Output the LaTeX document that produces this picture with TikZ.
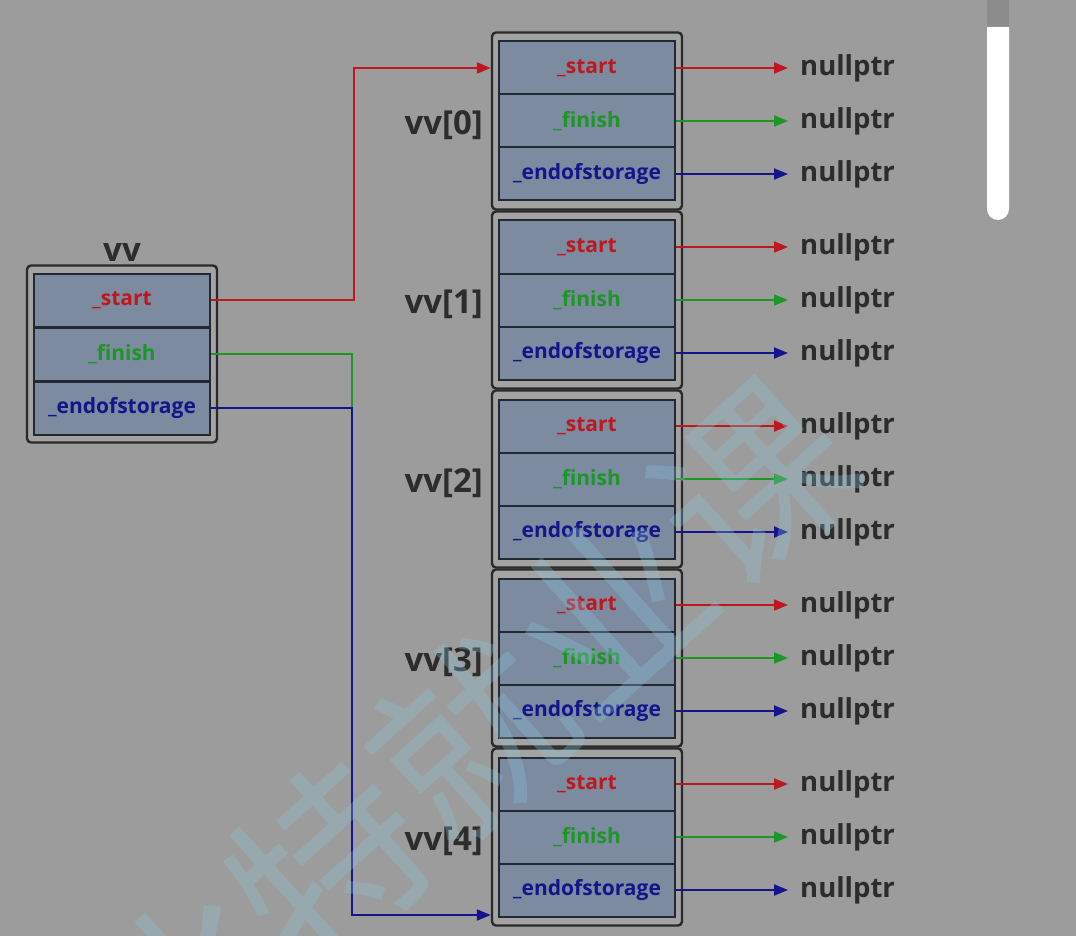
\documentclass[tikz,border=0pt]{standalone}
\usepackage{fontspec}
\setmainfont{Open Sans}
\newfontfamily\cjk{Noto Sans CJK SC}
\usetikzlibrary{arrows.meta,fit,backgrounds}
\definecolor{bgc}{RGB}{156,156,156}
\definecolor{framefill}{RGB}{163,163,163}
\definecolor{framec}{RGB}{42,42,42}
\definecolor{cellc}{RGB}{124,139,160}
\definecolor{cellline}{RGB}{36,40,48}
\definecolor{rc}{RGB}{190,24,30}
\definecolor{gc}{RGB}{28,150,36}
\definecolor{bc}{RGB}{20,20,140}
\definecolor{labc}{RGB}{44,44,44}
\definecolor{wmc}{RGB}{140,198,222}
\tikzset{
  cell/.style={draw=cellline, line width=2pt, fill=cellc, minimum width=176pt,
    minimum height=53pt, inner sep=0pt, font=\bfseries\fontsize{21}{21}\selectfont},
  frame/.style={draw=framec, line width=2.4pt, fill=framefill, rounded corners=4pt,
    inner xsep=6pt, inner ysep=7pt},
  lbl/.style={text=labc, inner sep=0pt, font=\bfseries\fontsize{33}{33}\selectfont},
  nptr/.style={text=labc, anchor=west, inner xsep=12pt, inner ysep=0pt,
    font=\bfseries\fontsize{27.5}{27.5}\selectfont},
  link/.style={line width=2pt, -{Triangle[length=14pt,width=11pt]}},
  plain/.style={line width=2pt}
}
\begin{document}
\begin{tikzpicture}[x=1pt,y=-1pt]
\begin{scope}[on background layer]
\fill[bgc] (0,0) rectangle (1076,936);
\end{scope}
\useasboundingbox (0,0) rectangle (1076,936);

% scrollbar
\fill[black!45] (987,0) rectangle (1009,28);
\fill[white] (987,27) -- (1009,27) -- (1009,209) arc[start angle=0,end angle=-180,radius=11pt] -- cycle;

% vv struct
\node[cell, text=rc] (vs) at (122,300) {\_start};
\node[cell, text=gc] (vf) at (122,354) {\_finish};
\node[cell, text=bc] (ve) at (122,408) {\_endofstorage};
\begin{scope}[on background layer]
\node[frame, fit=(vs)(ve)] (fv) {};
\end{scope}
\node[lbl, anchor=south] (vvlbl) at ([yshift=3pt]fv.north) {vv};

% array elements
\foreach \k in {0,...,4}{
  \pgfmathsetmacro{\ytop}{41+179*\k}
  \node[cell, text=rc] (a\k s) at (587,\ytop+27) {\_start};
  \node[cell, text=gc] (a\k f) at (587,\ytop+80) {\_finish};
  \node[cell, text=bc] (a\k e) at (587,\ytop+133) {\_endofstorage};
  \begin{scope}[on background layer]
  \node[frame, fit=(a\k s)(a\k e), inner ysep=8pt] (f\k) {};
  \end{scope}
  \node[lbl, anchor=east] (l\k) at ([xshift=-15pt,yshift=-4pt]a\k f.west) {vv[\k]};
  \node[nptr] (n\k s) at (788,\ytop+27) {nullptr};
  \node[nptr] (n\k f) at (788,\ytop+80) {nullptr};
  \node[nptr] (n\k e) at (788,\ytop+133) {nullptr};
  \draw[link, rc] (a\k s.east) -- (a\k s.east -| n\k s.west);
  \draw[link, gc] (a\k f.east) -- (a\k f.east -| n\k f.west);
  \draw[link, bc] (a\k e.east) -- (a\k e.east -| n\k e.west);
}

% connectors from vv
\coordinate (bendr) at (354,0);
\coordinate (bendb) at (352,0);
\coordinate (bluey) at (0,915);
\draw[link, rc] (vs.east) -- (vs.east -| bendr) |- (f0.west |- a0s);
\draw[plain, gc] (vf.east) -- (vf.east -| bendb) -- (bendb |- ve.east);
\draw[link, bc] (ve.east) -- (ve.east -| bendb) |- (f4.west |- bluey);

% watermark
\node[text=wmc, opacity=0.3, rotate=42, inner sep=0pt,
  font=\cjk\fontsize{190}{190}\selectfont] (wm) at (470,737) {比特就业课};
\end{tikzpicture}
\end{document}
